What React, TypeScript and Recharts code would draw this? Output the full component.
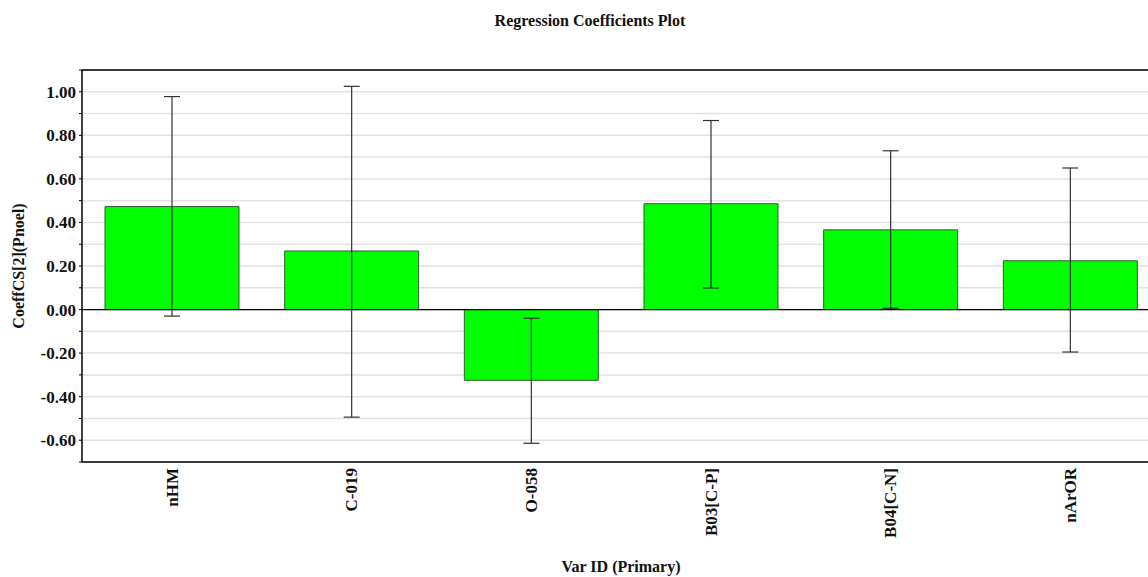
import {
  BarChart, Bar, XAxis, YAxis, CartesianGrid, ErrorBar, ReferenceLine,
} from "recharts";

const variables = ["nHM", "C-019", "O-058", "B03[C-P]", "B04[C-N]", "nArOR"];
const coefficients = [0.473, 0.269, -0.325, 0.486, 0.366, 0.224];
const lowerBound = [-0.03, -0.494, -0.614, 0.099, 0.006, -0.195];
const upperBound = [0.978, 1.025, -0.04, 0.868, 0.729, 0.650];
const yTicks = [-0.7, -0.6, -0.5, -0.4, -0.3, -0.2, -0.1, 0, 0.1, 0.2, 0.3, 0.4, 0.5, 0.6, 0.7, 0.8, 0.9, 1.0, 1.1];

const data = variables.map((name, i) => ({
  name,
  coeff: coefficients[i],
  err: [coefficients[i] - lowerBound[i], upperBound[i] - coefficients[i]],
}));

const FONT = '"Liberation Serif", "Times New Roman", serif';

const fmtY = (v: number) => {
  const n = Math.round(v * 10);
  if (n % 2 !== 0) return "";
  return (n === 0 ? 0 : v).toFixed(2);
};

function XTick({ x, y, payload }: any) {
  return (
    <text
      x={x} y={y} dy="0.35em"
      transform={`rotate(-90 ${x} ${y})`}
      textAnchor="end"
      fontFamily={FONT} fontSize={17} fontWeight="bold" fill="#111"
    >
      {payload.value}
    </text>
  );
}

export default function App() {
  return (
    <div style={{ position: "absolute", left: 0, top: 0, width: 1148, height: 577, overflow: "hidden", background: "#fff" }}>
      <div style={{
        position: "absolute", top: 12, left: 0, width: 1180, textAlign: "center",
        fontFamily: FONT, fontSize: 16, fontWeight: "bold", color: "#111",
      }}>
        Regression Coefficients Plot
      </div>
      <BarChart
        width={1160} height={577} data={data}
        margin={{ top: 70, right: 0, bottom: 0, left: 0 }}
      >
        <CartesianGrid vertical={false} stroke="#e2e2e2" strokeWidth={1.5} />
        <XAxis
          dataKey="name" height={115} tickLine={false} tickSize={0} tickMargin={6}
          axisLine={{ stroke: "#000", strokeWidth: 1.5 }}
          tick={<XTick />} interval={0}
          label={{
            content: (p: any) => {
              const vb = p.viewBox;
              return (
                <text x={vb.x + vb.width / 2} y={572} textAnchor="middle"
                  fontFamily={FONT} fontSize={16} fontWeight="bold" fill="#111">
                  Var ID (Primary)
                </text>
              );
            },
          }}
        />
        <YAxis
          width={82} domain={[-0.7, 1.1]} ticks={yTicks} interval={0}
          tickFormatter={fmtY} tickSize={3} tickMargin={3}
          axisLine={{ stroke: "#000", strokeWidth: 1.5 }}
          tickLine={{ stroke: "#000" }}
          tick={{ fontFamily: FONT, fontSize: 17, fontWeight: "bold", fill: "#111" }}
          label={{
            content: (p: any) => {
              const vb = p.viewBox;
              const cy = vb.y + vb.height / 2;
              return (
                <text x={18} y={cy} dy="0.35em" transform={`rotate(-90 18 ${cy})`} textAnchor="middle"
                  fontFamily={FONT} fontSize={16} fontWeight="bold" fill="#111">
                  CoeffCS[2](Pnoel)
                </text>
              );
            },
          }}
        />
        <ReferenceLine y={1.1} stroke="#000" strokeWidth={1.5} />
        <Bar dataKey="coeff" fill="#00ff00" stroke="#2f5f2f" strokeWidth={1} barSize={134} isAnimationActive={false}>
          <ErrorBar dataKey="err" direction="y" width={8} stroke="#333" strokeWidth={1.2} />
        </Bar>
        <ReferenceLine y={0} stroke="#000" strokeWidth={1.2} />
      </BarChart>
    </div>
  );
}
